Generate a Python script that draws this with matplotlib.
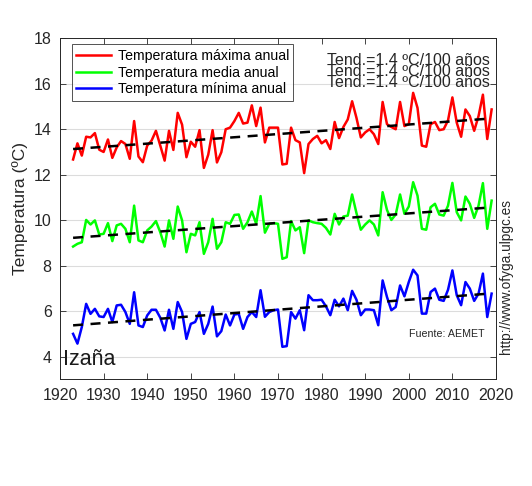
import numpy as np
import matplotlib
matplotlib.use("Agg")
import matplotlib.pyplot as plt

plt.rcParams['font.family'] = ['Liberation Sans', 'DejaVu Sans']

# Years and annual temperatures at Izaña
years = np.arange(1923, 2020)

t_max = [12.67, 13.38, 12.84, 13.67, 13.64, 13.83, 13.10, 13.00, 13.55, 12.74,
         13.20, 13.48, 13.35, 12.70, 14.36, 12.80, 12.55, 13.28, 13.50, 13.93,
         13.28, 12.62, 13.93, 13.09, 14.72, 14.20, 12.77, 13.45, 13.23, 13.96,
         12.30, 12.88, 13.96, 12.54, 12.99, 14.00, 14.07, 14.36, 14.72, 14.25,
         14.29, 15.05, 14.14, 14.95, 13.42, 14.07, 14.07, 14.07, 12.45, 12.48,
         14.07, 13.52, 13.42, 12.07, 13.35, 13.57, 13.71, 13.38, 13.52, 13.13,
         14.32, 13.61, 14.10, 14.43, 15.23, 14.50, 13.64, 13.86, 14.00, 13.78,
         13.35, 15.20, 14.22, 14.10, 14.00, 15.20, 14.14, 14.22, 15.60, 14.94,
         13.28, 13.23, 14.22, 14.32, 13.96, 14.00, 14.39, 15.40, 14.29, 13.67,
         14.87, 14.58, 13.93, 14.58, 15.52, 13.57, 14.87]

t_med = [8.84, 8.96, 9.03, 10.01, 9.81, 9.99, 9.37, 9.40, 9.87, 9.08,
         9.77, 9.84, 9.62, 9.03, 10.64, 9.11, 9.03, 9.55, 9.72, 9.96,
         9.47, 8.84, 9.99, 9.18, 10.60, 9.99, 8.59, 9.40, 9.33, 9.91,
         8.52, 9.03, 10.06, 8.74, 9.03, 9.91, 9.84, 10.23, 10.25, 9.62,
         9.91, 10.38, 9.84, 11.06, 9.45, 9.84, 9.87, 9.84, 8.30, 8.37,
         9.96, 9.55, 9.69, 8.55, 9.99, 9.91, 9.87, 9.84, 9.66, 9.37,
         10.28, 9.81, 10.16, 10.20, 11.13, 10.31, 9.58, 9.81, 9.99, 9.81,
         9.33, 11.23, 10.45, 10.01, 10.25, 11.13, 10.28, 10.60, 11.67, 11.08,
         9.62, 9.58, 10.57, 10.72, 10.25, 10.20, 10.64, 11.64, 10.35, 9.99,
         11.04, 10.72, 10.10, 10.64, 11.63, 9.62, 10.86]

t_min = [5.00, 4.57, 5.30, 6.32, 5.88, 6.10, 5.77, 5.74, 6.10, 5.52,
         6.25, 6.28, 5.96, 5.44, 6.83, 5.37, 5.30, 5.81, 6.06, 6.06,
         5.71, 5.15, 6.06, 5.22, 6.40, 5.96, 4.78, 5.44, 5.52, 5.96,
         5.00, 5.44, 6.20, 4.89, 5.12, 5.85, 5.37, 5.85, 5.88, 5.22,
         5.74, 5.96, 5.74, 6.92, 5.75, 5.96, 6.04, 6.07, 4.43, 4.46,
         5.96, 5.67, 6.04, 5.16, 6.70, 6.48, 6.48, 6.50, 6.21, 5.82,
         6.50, 6.21, 6.55, 6.04, 6.89, 6.50, 5.82, 6.07, 6.07, 6.04,
         5.38, 7.35, 6.62, 6.04, 6.18, 7.13, 6.65, 7.28, 7.82, 7.57,
         5.89, 5.89, 6.84, 6.99, 6.50, 6.45, 6.94, 7.79, 6.70, 6.26,
         7.28, 6.99, 6.45, 6.77, 7.65, 5.74, 6.77]

labels = ['Temperatura máxima anual', 'Temperatura media anual', 'Temperatura mínima anual']
colors = ['#ff0000', '#00ff00', '#0000ff']
trend_text = 'Tend.=1.4 ºC/100 años'

fig = plt.figure(figsize=(5.32, 4.86), dpi=100)
ax = fig.add_axes([0.1128, 0.2195, 0.8195, 0.7017])

for serie, lab, col in zip([t_max, t_med, t_min], labels, colors):
    ax.plot(years, serie, color=col, lw=1.8, label=lab)

# linear trends (dashed black)
for serie in [t_max, t_med, t_min]:
    p = np.polyfit(years, serie, 1)
    ax.plot(years, np.polyval(p, years), color='black', lw=1.8,
            ls=(0, (4, 3)))

ax.set_xlim(1920, 2020)
ax.set_ylim(3, 18)
ax.set_xticks(np.arange(1920, 2021, 10))
ax.set_yticks(np.arange(4, 19, 2))
ax.grid(axis='y', color='#dcdcdc', lw=0.8)
ax.set_axisbelow(True)
ax.tick_params(direction='in', top=True, right=True, length=4, width=0.6,
               colors='#262626', labelsize=11.5, labelcolor='#262626', pad=6)
for s in ax.spines.values():
    s.set_color('#262626')
    s.set_linewidth(0.7)
ax.set_ylabel('Temperatura (ºC)', fontsize=12.5, color='#262626')

leg = ax.legend(loc='upper left', bbox_to_anchor=(0.027, 0.982), fontsize=10.2,
                frameon=True, fancybox=False, edgecolor='#262626',
                handlelength=2.5, borderpad=0.3, labelspacing=0.2,
                handletextpad=0.45, borderaxespad=0)
leg.get_frame().set_linewidth(0.7)

for k in range(3):
    ax.text(0.987, 0.934 - k * 0.032, trend_text, transform=ax.transAxes,
            ha='right', va='center', fontsize=11.5, color='#262626')

ax.text(0.008, 0.058, 'Izaña', transform=ax.transAxes, ha='left', va='center',
        fontsize=15.5, color='#1a1a1a')
ax.text(0.975, 0.133, 'Fuente: AEMET', transform=ax.transAxes, ha='right',
        va='center', fontsize=7.7, color='#262626')
fig.text(0.952, 0.432, 'http://www.ofyga.ulpgc.es', rotation=90, ha='center',
         va='center', fontsize=9.8, color='#262626')

fig.savefig('out.png', dpi=100)
